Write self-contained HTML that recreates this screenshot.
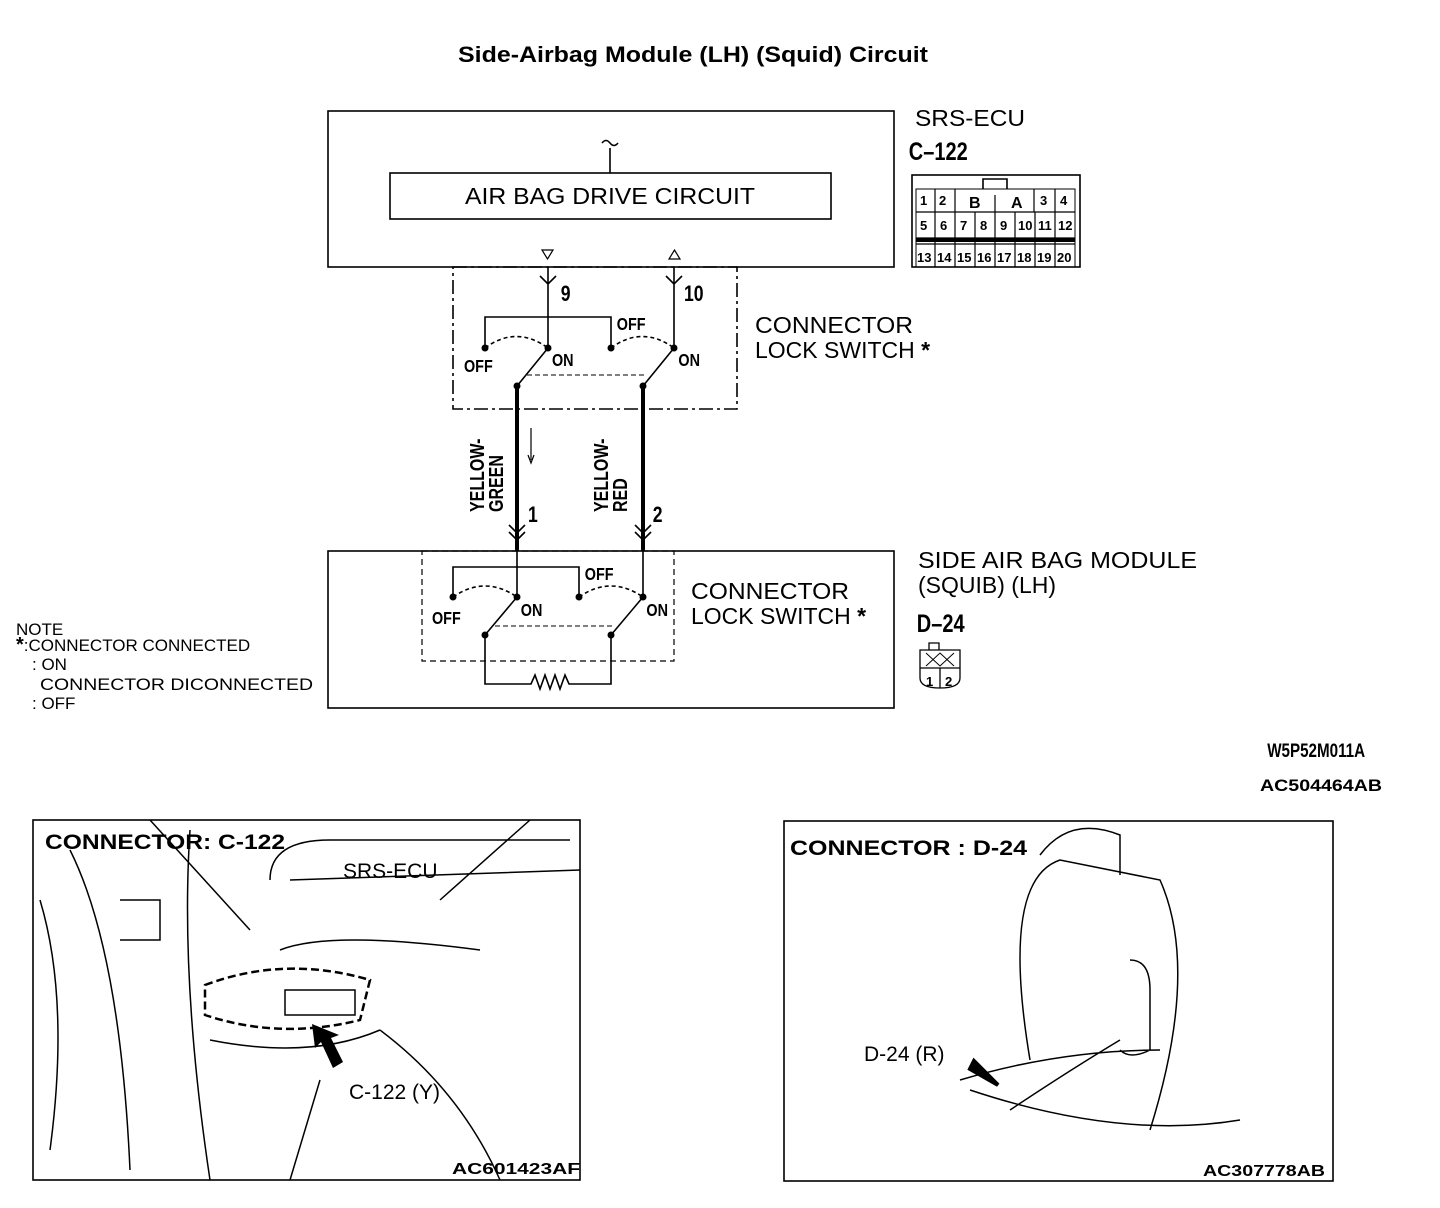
<!DOCTYPE html>
<html><head><style>body{margin:0;background:#fff}svg{display:block}text{font-family:"Liberation Sans",sans-serif;fill:#000}</style></head><body>
<svg width="1440" height="1208" viewBox="0 0 1440 1208" xmlns="http://www.w3.org/2000/svg">
<text x="693" y="62" text-anchor="middle" font-weight="bold" font-size="22" textLength="470" lengthAdjust="spacingAndGlyphs">Side-Airbag Module (LH) (Squid) Circuit</text>
<g fill="none" stroke="#000" stroke-width="1.6">
<rect x="328" y="111" width="566" height="156"/>
<rect x="390" y="173" width="441" height="46"/>
<path d="M610 148V173 M602 143q4-5 8 0t8 0"/>
<path d="M542 250h11l-5.5 9z M669 259h11l-5.5-9z" stroke-width="1.2"/>
<rect x="453" y="267" width="284" height="142" stroke-dasharray="14,4,3,4"/>
<path d="M548 267V348 M540 276l8 8 8-8 M674 267V348 M666 276l8 8 8-8"/>
<path d="M485 348V317H611V348"/>
<path d="M485 348Q516 325 548 348 M611 348Q642 325 674 348" stroke-dasharray="4,3"/>
<path d="M527 375H645" stroke-dasharray="5,3" stroke-width="1"/>
<path d="M517 386L548 348 M643 386L674 348"/>
<path d="M517 386V551 M643 386V551" stroke-width="4"/>
<path d="M509 525l8 8 8-8 M509 532l8 8 8-8 M635 525l8 8 8-8 M635 532l8 8 8-8"/>
<path d="M531 428V460" stroke-width="1.2"/><path d="M528 455l3 8 3-8" stroke-width="1.2"/>
<rect x="328" y="551" width="566" height="157"/>
<rect x="422" y="551" width="252" height="110" stroke-dasharray="6,4" stroke-width="1.2"/>
<path d="M517 551V597 M643 551V597"/>
<path d="M453 597V567H579V597"/>
<path d="M453 597Q485 575 517 597 M579 597Q611 575 643 597" stroke-dasharray="4,3"/>
<path d="M495 626H613" stroke-dasharray="5,3" stroke-width="1"/>
<path d="M485 635L517 597 M611 635L643 597"/>
<path d="M485 635V684H531l4-9 5 14 5-14 5 14 5-14 5 14 5-14 4 9H611V635"/>
<rect x="912" y="175" width="168" height="92"/>
<path d="M916 189h159v78h-159z" stroke-width="1"/>
<path d="M983 189v-10h24v10" />
<path d="M916 212h159 M916 238h159 M916 244h159 M955 189v23 M1034 189v23 M995 195v17" stroke-width="1.2"/>
<path d="M935 189v78 M955 212v55 M975 212v55 M995 212v55 M1015 212v55 M1035 212v55 M1055 212v55 M1055 189v23" stroke-width="1.2"/>
<path d="M916 240h159" stroke-width="4"/>
<path d="M920 650h40v28q0 10-20 10t-20-10z M929 650v-7h10v7 M920 668h40 M940 668v20" stroke-width="1.3"/>
<path d="M926 653l14 13 14-13 M926 666l14-13 14 13" stroke-width="1"/>
<rect x="33" y="820" width="547" height="360"/>
<rect x="784" y="821" width="549" height="360"/>
</g>
<g fill="#000">
<circle cx="485" cy="348" r="3.5"/><circle cx="548" cy="348" r="3.5"/><circle cx="611" cy="348" r="3.5"/><circle cx="674" cy="348" r="3.5"/>
<circle cx="517" cy="386" r="3.5"/><circle cx="643" cy="386" r="3.5"/>
<circle cx="453" cy="597" r="3.5"/><circle cx="517" cy="597" r="3.5"/><circle cx="579" cy="597" r="3.5"/><circle cx="643" cy="597" r="3.5"/>
<circle cx="485" cy="635" r="3.5"/><circle cx="611" cy="635" r="3.5"/>
</g>
<g font-size="23">
<text x="610" y="204" text-anchor="middle" textLength="290" lengthAdjust="spacingAndGlyphs">AIR BAG DRIVE CIRCUIT</text>
<text x="915" y="126" textLength="110" lengthAdjust="spacingAndGlyphs">SRS-ECU</text>
<text x="755" y="333" textLength="158" lengthAdjust="spacingAndGlyphs">CONNECTOR</text><text x="755" y="358">LOCK SWITCH <tspan font-weight="bold">*</tspan></text>
<text x="691" y="599" textLength="158" lengthAdjust="spacingAndGlyphs">CONNECTOR</text><text x="691" y="624">LOCK SWITCH <tspan font-weight="bold">*</tspan></text>
<text x="918" y="568" textLength="279" lengthAdjust="spacingAndGlyphs">SIDE AIR BAG MODULE</text><text x="918" y="593">(SQUIB) (LH)</text>
</g>
<g font-size="18" font-weight="bold" transform="scale(0.8,1)">
<text x="1136" y="160" font-size="25">C–122</text>
<text x="1146" y="632" font-size="25">D–24</text>
<text x="701" y="301" font-size="22">9</text>
<text x="855" y="301" font-size="22">10</text>
<text x="771" y="330">OFF</text><text x="580" y="372">OFF</text>
<text x="690" y="366">ON</text><text x="848" y="366">ON</text>
<text x="731" y="580">OFF</text><text x="540" y="624">OFF</text>
<text x="651" y="616">ON</text><text x="808" y="616">ON</text>
<text x="660" y="522" font-size="22">1</text><text x="816" y="522" font-size="22">2</text>
<text x="1584" y="757" font-size="19">W5P52M011A</text>
</g>
<g font-size="20" font-weight="bold">
<text transform="translate(484,512) rotate(-90) scale(0.8,1)">YELLOW-</text>
<text transform="translate(503,512) rotate(-90) scale(0.8,1)">GREEN</text>
<text transform="translate(608,512) rotate(-90) scale(0.8,1)">YELLOW-</text>
<text transform="translate(627,512) rotate(-90) scale(0.8,1)">RED</text>
</g>
<g font-size="13" font-weight="bold">
<text x="920" y="205">1</text><text x="939" y="205">2</text><text x="969" y="208" font-size="16">B</text><text x="1011" y="208" font-size="16">A</text><text x="1040" y="205">3</text><text x="1060" y="205">4</text>
<text x="920" y="230">5</text><text x="940" y="230">6</text><text x="960" y="230">7</text><text x="980" y="230">8</text><text x="1000" y="230">9</text><text x="1018" y="230">10</text><text x="1038" y="230">11</text><text x="1058" y="230">12</text>
<text x="917" y="262">13</text><text x="937" y="262">14</text><text x="957" y="262">15</text><text x="977" y="262">16</text><text x="997" y="262">17</text><text x="1017" y="262">18</text><text x="1037" y="262">19</text><text x="1057" y="262">20</text>
<text x="926" y="686">1</text><text x="945" y="686">2</text>
</g>
<g font-size="17">
<text x="16" y="635">NOTE</text>
<text x="16" y="651"><tspan font-weight="bold" font-size="20">*</tspan>:CONNECTOR CONNECTED</text>
<text x="32" y="670">: ON</text>
<text x="40" y="690" textLength="273" lengthAdjust="spacingAndGlyphs">CONNECTOR DICONNECTED</text>
<text x="32" y="709">: OFF</text>
</g>
<text x="1260" y="791" font-size="17" font-weight="bold" textLength="122" lengthAdjust="spacingAndGlyphs">AC504464AB</text>
<g stroke="#000" fill="none" stroke-width="1.5">
<path d="M40 900q30 100 10 250 M70 850q50 100 60 320 M120 900h40v40h-40 M150 820l100 110 M190 830q-10 150 20 350 M270 880q0-40 60-40h240 M280 950q50-20 200 0 M290 880l290 -10 M210 1040q100 20 170-10 M320 1080l-30 100 M380 1030q80 60 120 150 M440 900l90-80"/>
<path d="M205 985q80-30 165-5l-10 40q-80 20-155 -5z" stroke-dasharray="8,4" stroke-width="2.5"/>
<rect x="285" y="990" width="70" height="25"/>
<path d="M1030 1060q-30-180 30-200l100 20q40 90-10 250 M1040 855q30-40 80-20v40 M960 1080q100-30 200-30 M970 1090q150 50 270 30 M1130 960q20 0 20 30v60q-20 10-30 0 M1010 1110q60-40 110-70"/>
</g>
<path d="M312 1024l3 24 6-6 12 26 10-6 -12-24 8-3z" fill="#000"/>
<path d="M998 1085l-28-16 4-8z" fill="#000" stroke="#000" stroke-width="4"/>
<g font-size="21">
<text x="45" y="849" font-weight="bold" textLength="240" lengthAdjust="spacingAndGlyphs">CONNECTOR: C-122</text>
<text x="343" y="878">SRS-ECU</text>
<text x="349" y="1099">C-122 (Y)</text>
<text x="790" y="855" font-weight="bold" textLength="237" lengthAdjust="spacingAndGlyphs">CONNECTOR : D-24</text>
<text x="864" y="1061">D-24 (R)</text>
</g>
<g font-size="16" font-weight="bold">
<text x="452" y="1174" textLength="128" lengthAdjust="spacingAndGlyphs">AC601423AF</text>
<text x="1203" y="1176" textLength="122" lengthAdjust="spacingAndGlyphs">AC307778AB</text>
</g>
</svg>
</body></html>
